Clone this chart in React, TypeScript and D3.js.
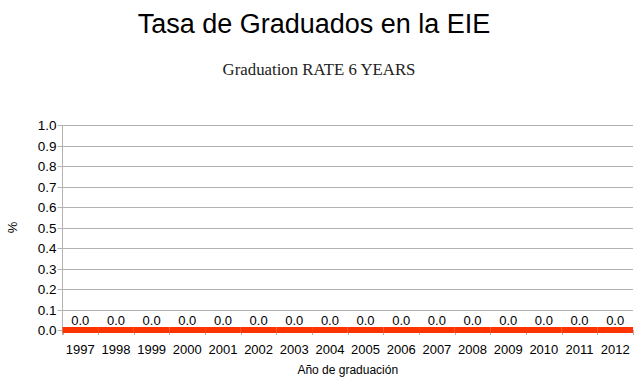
import React from "react";
import * as d3 from "d3";

const years = ["1997", "1998", "1999", "2000", "2001", "2002", "2003", "2004", "2005", "2006", "2007", "2008", "2009", "2010", "2011", "2012"];
const rates = [0, 0, 0, 0, 0, 0, 0, 0, 0, 0, 0, 0, 0, 0, 0, 0];
const yTicks = [0, 0.1, 0.2, 0.3, 0.4, 0.5, 0.6, 0.7, 0.8, 0.9, 1.0];

export default function App() {
  const W = 640, H = 391;
  const left = 62.5, right = 633, top = 125, bottom = 330;

  const x = d3.scaleBand().domain(years).range([left, right]).padding(0);
  const y = d3.scaleLinear().domain([0, 1]).range([bottom, top]);
  const font = "'Liberation Sans', Arial, sans-serif";

  return (
    <svg width={W} height={H} style={{ position: "absolute", left: 0, top: 0 }}>
      <rect width={W} height={H} fill="#fff" />
      <text x={314} y={33} textAnchor="middle" fontFamily={font} fontSize={27} fill="#000">
        Tasa de Graduados en la EIE
      </text>
      <text x={319} y={75} textAnchor="middle" fontFamily="'Liberation Serif', 'Times New Roman', serif" fontSize={16.8} fill="#222">
        Graduation RATE 6 YEARS
      </text>

      {/* grid */}
      {yTicks.map(t => (
        <g key={t}>
          <line x1={left - 5} x2={right} y1={Math.round(y(t)) + 0.5} y2={Math.round(y(t)) + 0.5} stroke="#b3b3b3" />
          <text x={left - 6} y={y(t) + 5} textAnchor="end" fontFamily={font} fontSize={13.5} fill="#000">
            {t.toFixed(1)}
          </text>
        </g>
      ))}
      <line x1={left} x2={left} y1={top} y2={bottom + 5} stroke="#b3b3b3" />
      {years.map(yr => (
        <line key={"t" + yr} x1={Math.round(x(yr)!) + 0.5} x2={Math.round(x(yr)!) + 0.5} y1={bottom} y2={bottom + 5} stroke="#b3b3b3" />
      ))}
      <line x1={right + 0.5} x2={right + 0.5} y1={bottom} y2={bottom + 5} stroke="#b3b3b3" />

      {/* series */}
      {years.map((yr, i) => (
        <rect key={"b" + yr} x={x(yr)!} width={x.bandwidth()} y={y(rates[i]) - 3} height={bottom - y(rates[i]) + 6} fill="#ff3300" />
      ))}
      {years.map((yr, i) => (
        <text key={"l" + yr} x={x(yr)! + x.bandwidth() / 2} y={y(rates[i]) - 5} textAnchor="middle" fontFamily={font} fontSize={13} fill="#000">
          {rates[i].toFixed(1)}
        </text>
      ))}

      {years.map(yr => (
        <text key={"x" + yr} x={x(yr)! + x.bandwidth() / 2} y={bottom + 24} textAnchor="middle" fontFamily={font} fontSize={13} fill="#000">
          {yr}
        </text>
      ))}

      <text x={(left + right) / 2} y={374} textAnchor="middle" fontFamily={font} fontSize={12} fill="#000">
        Año de graduación
      </text>
      <text transform={`translate(17, ${(top + bottom) / 2}) rotate(-90)`} textAnchor="middle" fontFamily={font} fontSize={13} fill="#000">
        %
      </text>
    </svg>
  );
}
